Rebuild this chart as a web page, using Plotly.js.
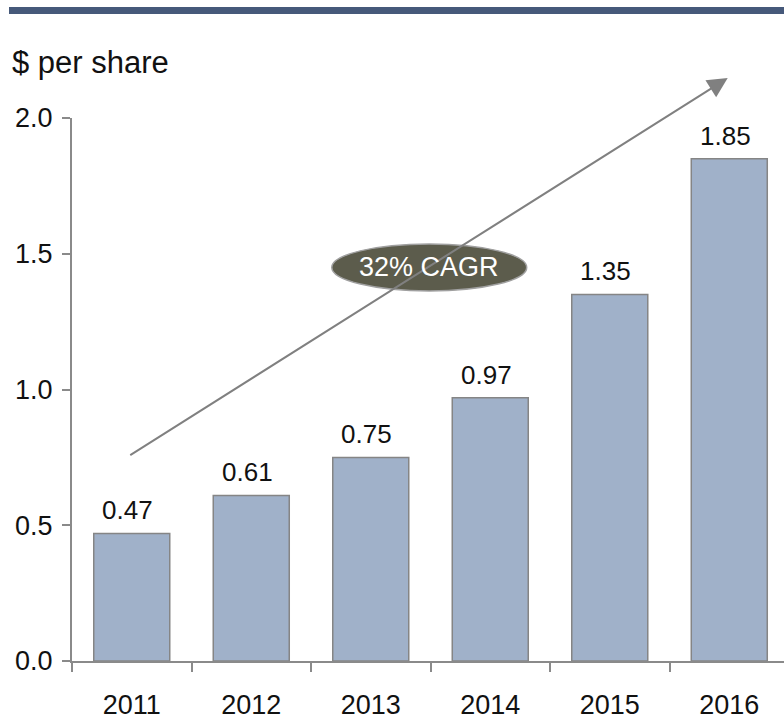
<!DOCTYPE html>
<html>
<head>
<meta charset="utf-8">
<script src="https://cdn.plot.ly/plotly-3.0.1.min.js"></script>
<style>html,body{margin:0;padding:0;background:#fff;}#chart{width:784px;height:720px;}</style>
</head>
<body>
<div id="chart"></div>
<script>
const years = ['2011', '2012', '2013', '2014', '2015', '2016'];
const values = [0.47, 0.61, 0.75, 0.97, 1.35, 1.85];
const valueLabels = ['0.47', '0.61', '0.75', '0.97', '1.35', '1.85'];
const yTickVals = [0, 0.5, 1.0, 1.5, 2.0];
const yTickText = ['0.0', '0.5', '1.0', '1.5', '2.0'];
const unitLabel = '$ per share';
const cagrLabel = '32% CAGR';

const FONT = 'Liberation Sans, Arial, sans-serif';
const AXIS = '#8a8a8a';

const trace = {
  type: 'bar',
  x: years,
  y: values,
  marker: {color: '#a0b1c9', line: {color: '#858585', width: 1.5}},
  hoverinfo: 'none'
};

const valueAnnotations = years.map((yr, i) => ({
  xref: 'x', yref: 'y', x: i, y: values[i], xanchor: 'center', yanchor: 'bottom',
  yshift: 6, xshift: -4, text: valueLabels[i], showarrow: false,
  font: {family: FONT, size: 26, color: '#111'}
}));

const layout = {
  width: 784,
  height: 720,
  margin: {l: 72, r: 0, t: 118, b: 59},
  paper_bgcolor: '#fff',
  plot_bgcolor: '#fff',
  showlegend: false,
  bargap: 0.364,
  font: {family: FONT, size: 25, color: '#111'},
  xaxis: {
    type: 'category',
    range: [-0.5, 5.458],
    showgrid: false,
    zeroline: false,
    showline: true,
    linecolor: AXIS,
    linewidth: 2,
    ticks: 'outside',
    tickson: 'boundaries',
    ticklen: 9,
    tickwidth: 2,
    tickcolor: AXIS,
    ticklabelstandoff: 19,
    tickfont: {family: FONT, size: 27, color: '#111'},
    fixedrange: true
  },
  yaxis: {
    range: [0, 2.0],
    tickvals: yTickVals,
    ticktext: yTickText,
    showgrid: false,
    zeroline: false,
    showline: true,
    linecolor: AXIS,
    linewidth: 2,
    ticks: 'outside',
    ticklen: 8,
    tickwidth: 2,
    tickcolor: AXIS,
    ticklabelstandoff: 4,
    tickfont: {family: FONT, size: 27, color: '#111'},
    fixedrange: true
  },
  shapes: [
    {type: 'rect', xref: 'paper', yref: 'paper', x0: (9-72)/712, x1: 1.02,
     y0: (661-14)/543, y1: (661-7)/543, fillcolor: '#46597a', line: {width: 0}},
    {type: 'circle', xref: 'x', yref: 'y', x0: 1.674, x1: 3.305, y0: 1.363, y1: 1.536,
     fillcolor: '#5c5c4c', line: {color: '#a0a0a0', width: 1.5}, layer: 'above'}
  ],
  annotations: valueAnnotations.concat([
    {xref: 'paper', yref: 'paper', x: (10-72)/712, y: (661-62)/543, xanchor: 'left', yanchor: 'middle',
     text: unitLabel, showarrow: false, font: {family: FONT, size: 31, color: '#111'}},
    {xref: 'x', yref: 'y', axref: 'x', ayref: 'y', x: 4.987, y: 2.147, ax: -0.025, ay: 0.755,
     showarrow: true, arrowhead: 2, arrowsize: 2, arrowwidth: 2, arrowcolor: '#808080', text: ''},
    {xref: 'x', yref: 'y', x: 2.49, y: 1.45, text: cagrLabel, showarrow: false,
     font: {family: FONT, size: 27, color: '#fff'}}
  ])
};

Plotly.newPlot('chart', [trace], layout, {staticPlot: true, displayModeBar: false});
</script>
</body>
</html>
